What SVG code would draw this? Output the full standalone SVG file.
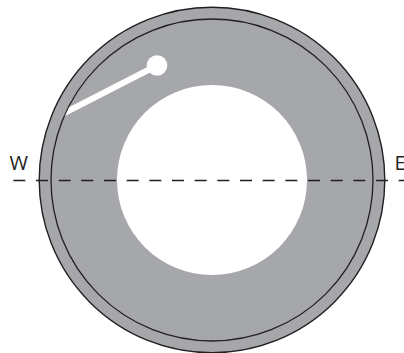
<svg xmlns="http://www.w3.org/2000/svg" width="404" height="353" viewBox="0 0 404 353">
<style>
.ring{fill:#a6a7aa;stroke:#231f20;stroke-width:1.4}
.line{fill:none;stroke:#231f20;stroke-width:1.3}
.lbl{font-family:"Open Sans","DejaVu Sans",sans-serif;font-size:20px;fill:#231f20}
</style>
<defs>
<clipPath id="inner"><circle cx="212" cy="180" r="160.4"/></clipPath>
</defs>
<g id="disc">
<circle class="ring" cx="212" cy="180" r="172.8"/>
<circle class="line" cx="212" cy="180" r="161"/>
<circle cx="212" cy="180" r="95" fill="#ffffff"/>
</g>
<g id="arm">
<line x1="40" y1="125.5" x2="157" y2="65.5" stroke="#ffffff" stroke-width="6" clip-path="url(#inner)"/>
<circle cx="157" cy="65.5" r="10.3" fill="#ffffff"/>
</g>
<g id="connectors">
<line x1="13.3" y1="180.5" x2="404" y2="180.5" stroke="#231f20" stroke-width="1.3" stroke-dasharray="12 10.67"/>
</g>
<g id="labels">
<text class="lbl" x="9.5" y="169.5">W</text>
<text class="lbl" x="394.5" y="169.5">E</text>
</g>
</svg>
